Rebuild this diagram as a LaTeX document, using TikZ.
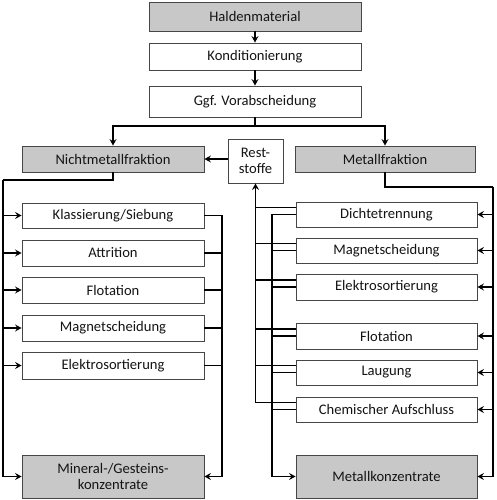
\documentclass[tikz,border=0pt]{standalone}
\usepackage{fontspec}
\setmainfont{Carlito}
\usetikzlibrary{arrows.meta}
\definecolor{boxgray}{RGB}{200,200,200}
\definecolor{linegray}{RGB}{70,70,70}
\definecolor{textgray}{RGB}{20,20,20}

\begin{document}
\begin{tikzpicture}[x=1pt,y=-1pt,
    box/.style={draw=linegray, line width=0.9pt, fill=white, inner sep=0pt, minimum width=182pt, minimum height=26pt, align=center, text=textgray, font=\fontsize{14.6}{16.5}\selectfont},
    gbox/.style={box, fill=boxgray},
    flow/.style={line width=1.3pt, -{Stealth[length=6.5pt,width=7pt,inset=2.4pt]}},
    link/.style={line width=1.3pt}]
    \useasboundingbox (0,0) rectangle (497,500);
    \node[gbox, minimum width=212pt, minimum height=29pt] (halde) at (255,16.5) {Haldenmaterial};
    \node[box, minimum width=212pt, minimum height=27pt] (kond) at (255,56.5) {Konditionierung};
    \node[box, minimum width=212pt, minimum height=31pt] (vorab) at (255,101.5) {Ggf. Vorabscheidung};
    \node[gbox] (nichtmet) at (113,159) {Nichtmetallfraktion};
    \node[gbox, minimum width=180pt] (metall) at (385,159) {Metallfraktion};
    \node[box, minimum width=55pt, minimum height=44pt] (rest) at (255.5,161) {Rest-\\stoffe};
    \node[box, minimum height=25pt] (klass) at (113,215.5) {Klassierung/Siebung};
    \node[box] (attr) at (113,253) {Attrition};
    \node[box] (nflot) at (113,290) {Flotation};
    \node[box] (nmagn) at (113,328) {Magnetscheidung};
    \node[box, minimum height=27pt] (nelek) at (113,365.5) {Elektrosortierung};
    \node[gbox, minimum height=43pt] (mineral) at (113,476.5) {Mineral-/Gesteins-\\konzentrate};
    \node[box, minimum width=181pt, minimum height=25pt] (dichte) at (386.5,214.5) {Dichtetrennung};
    \node[box, minimum width=181pt, minimum height=25pt] (mmagn) at (386.5,250.5) {Magnetscheidung};
    \node[box, minimum width=181pt] (melek) at (386.5,287) {Elektrosortierung};
    \node[box, minimum width=181pt] (mflot) at (386.5,336) {Flotation};
    \node[box, minimum width=181pt, minimum height=25pt] (laug) at (386.5,372.5) {Laugung};
    \node[box, minimum width=181pt, minimum height=25pt] (chem) at (386.5,409.5) {Chemischer Aufschluss};
    \node[gbox, minimum width=181pt, minimum height=43pt] (metkonz) at (386.5,476.5) {Metallkonzentrate};
    \coordinate (split) at (255,126);
    \coordinate (ltrunk) at (3,180);
    \coordinate (lcoll) at (222,215.5);
    \coordinate (rtrunk) at (493,187);
    \coordinate (rcoll) at (272,214.5);
    \draw[flow] (halde) -- (kond);
    \draw[flow] (kond) -- (vorab);
    \draw[link] (vorab.south) -- (split);
    \draw[flow] (split) -| (nichtmet.north);
    \draw[flow] (split) -| (metall.north);
    \draw[flow] (rest.west |- nichtmet.east) -- (nichtmet.east);
    \draw[link] (nichtmet.south) |- (ltrunk);
    \draw[flow] (ltrunk) |- (mineral.west);
    \foreach \n in {klass,attr,nflot,nmagn,nelek}
        \draw[flow] (ltrunk |- \n.west) -- (\n.west);
    \draw[flow] (klass.east) -| (lcoll |- mineral.east) -- (mineral.east);
    \foreach \n in {attr,nflot,nmagn,nelek}
        \draw[link] (\n.east) -- (\n.east -| lcoll);
    \draw[link] (metall.south) |- (rtrunk);
    \draw[flow] (rtrunk) |- (metkonz.east);
    \foreach \n in {dichte,mmagn,melek,mflot,laug,chem}
        \draw[flow] (rtrunk |- \n.east) -- (\n.east);
    \draw[flow] ([yshift=7pt]chem.west -| rest.south) -- (rest.south);
    \foreach \n in {dichte,mmagn,melek,mflot,laug,chem}
        \draw[link] ([yshift=7pt]\n.west) -- ([yshift=7pt]\n.west -| rest.south);
    \draw[flow, line width=1.6pt] (dichte.west) -| (rcoll |- metkonz.west) -- (metkonz.west);
    \foreach \n in {mmagn,melek,mflot,laug,chem}
        \draw[link] (\n.west) -- (\n.west -| rcoll);
\end{tikzpicture}
\end{document}
